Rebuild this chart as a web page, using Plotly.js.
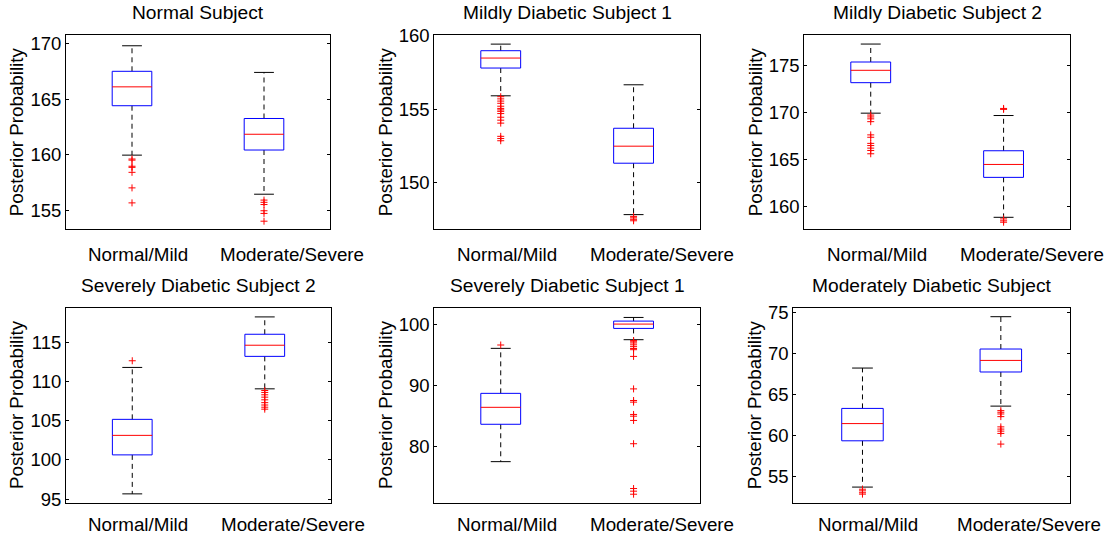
<!DOCTYPE html>
<html>
<head>
<meta charset="utf-8">
<script src="https://cdn.plot.ly/plotly-3.0.1.min.js"></script>
<style>
  html, body { margin: 0; padding: 0; background: #fff; }
  #chart { width: 1114px; height: 539px; }
</style>
</head>
<body>
<div id="chart"></div>
<script>
// ---------------- DATA ----------------
const panelTitles = [
  "Normal Subject",
  "Mildly Diabetic Subject 1",
  "Mildly Diabetic Subject 2",
  "Severely Diabetic Subject 2",
  "Severely Diabetic Subject 1",
  "Moderately Diabetic Subject"
];
const categories = ["Normal/Mild", "Moderate/Severe"];
const yAxisLabel = "Posterior Probability";

// per panel: [Normal/Mild, Moderate/Severe]
const upperWhisker = [[169.8, 167.4], [159.43, 156.66], [177.22, 169.65], [111.79, 118.23], [96.02, 101.09], [68.17, 74.43]];
const q3Values     = [[167.5, 163.25], [158.98, 153.7], [175.32, 165.92], [105.17, 116.02], [88.64, 100.49], [63.25, 70.49]];
const medianValues = [[166.1, 161.83], [158.48, 152.48], [174.44, 164.47], [103.13, 114.62], [86.35, 100.0], [61.4, 69.1]];
const q1Values     = [[164.4, 160.41], [157.8, 151.32], [173.13, 163.1], [100.64, 113.2], [83.57, 99.29], [59.3, 67.69]];
const lowerWhisker = [[159.95, 156.43], [155.91, 147.82], [169.9, 158.87], [95.67, 109.06], [77.44, 97.44], [53.66, 63.53]];

const outliersNormalMild = [
  [159.6, 159.5, 158.95, 158.85, 158.4, 157.0, 155.65],
  [155.85, 155.7, 155.55, 155.4, 155.2, 155.05, 154.95, 154.85, 154.7, 154.45, 154.25, 154.05, 153.15, 153.0, 152.85],
  [169.7, 169.5, 169.3, 169.0, 167.6, 167.35, 166.7, 166.47, 166.2, 165.95, 165.6],
  [112.64],
  [96.57],
  [53.4, 53.2, 52.97, 52.8]
];
const outliersModerateSevere = [
  [155.9, 155.7, 155.5, 154.94, 154.7, 154.0],
  [147.7, 147.6, 147.5, 147.4],
  [170.4, 170.3, 158.7, 158.5, 158.35],
  [108.85, 108.6, 108.3, 108.0, 107.66, 107.3, 107.0, 106.72, 106.47],
  [97.3, 97.1, 96.9, 96.6, 96.3, 96.0, 95.8, 94.7, 89.37, 87.47, 87.2, 85.18, 84.9, 84.2, 80.38, 73.03, 72.6, 72.1],
  [62.98, 62.78, 62.57, 62.25, 61.0, 60.73, 60.48, 60.2, 58.9]
];

const yTickValues = [
  [155, 160, 165, 170],
  [150, 155, 160],
  [160, 165, 170, 175],
  [95, 100, 105, 110, 115],
  [80, 90, 100],
  [55, 60, 65, 70, 75]
];

// ---------------- LAYOUT / DRAWING ----------------
const W = 1114, H = 539;
const yRanges = [[153.27, 170.77], [146.82, 160.05], [157.6, 178.18], [94.57, 119.43], [70.74, 102.72], [51.78, 75.49]];
const xDomPx = [[66, 330], [434.3, 700], [804.3, 1070], [66, 331], [434.3, 700], [793.3, 1070]];
const yDomPx = [[35, 229.3], [35, 229.3], [35, 229.3], [307.5, 502.5], [307.5, 502.5], [308, 502.5]];
const labelDrop = [25.2, 25.2, 25.2, 21.5, 21.5, 21.5];

const FONT = "Liberation Sans, Arial, Helvetica, sans-serif";
const halfBox = 0.15, halfCap = 0.075;
const BLUE = "#0000ff", RED = "#ff0000", BLACK = "#000000";

const traces = [];
const layout = {
  width: W, height: H,
  margin: {l: 0, r: 0, t: 0, b: 0},
  paper_bgcolor: "#ffffff",
  plot_bgcolor: "#ffffff",
  showlegend: false,
  font: {family: FONT, size: 18, color: BLACK},
  annotations: []
};

for (let p = 0; p < 6; p++) {
  const sfx = p === 0 ? "" : String(p + 1);
  const xa = "x" + sfx, ya = "y" + sfx;
  const boxX = [], boxY = [], medX = [], medY = [], whX = [], whY = [], capX = [], capY = [];
  const outX = [], outY = [];
  for (let c = 0; c < 2; c++) {
    const pos = c + 1;
    const q1 = q1Values[p][c], q3 = q3Values[p][c], md = medianValues[p][c];
    const uw = upperWhisker[p][c], lw = lowerWhisker[p][c];
    boxX.push(pos - halfBox, pos + halfBox, pos + halfBox, pos - halfBox, pos - halfBox, null);
    boxY.push(q1, q1, q3, q3, q1, null);
    medX.push(pos - halfBox, pos + halfBox, null);
    medY.push(md, md, null);
    whX.push(pos, pos, null, pos, pos, null);
    whY.push(q3, uw, null, q1, lw, null);
    capX.push(pos - halfCap, pos + halfCap, null, pos - halfCap, pos + halfCap, null);
    capY.push(uw, uw, null, lw, lw, null);
    const outs = c === 0 ? outliersNormalMild[p] : outliersModerateSevere[p];
    outs.forEach(v => { outX.push(pos); outY.push(v); });

    // category label (left-aligned just left of the box centre, as in the reference)
    layout.annotations.push({
      text: categories[c],
      xref: xa, yref: ya + " domain",
      x: pos, y: 0, xanchor: "left", yanchor: "middle",
      xshift: -46, yshift: -labelDrop[p],
      showarrow: false,
      font: {family: FONT, size: 18.8, color: BLACK}
    });
  }
  const common = {xaxis: xa, yaxis: ya, hoverinfo: "skip", type: "scatter"};
  traces.push(Object.assign({x: whX, y: whY, mode: "lines", line: {color: BLACK, width: 1, dash: "5px,4px"}}, common));
  traces.push(Object.assign({x: capX, y: capY, mode: "lines", line: {color: BLACK, width: 1}}, common));
  traces.push(Object.assign({x: boxX, y: boxY, mode: "lines", line: {color: BLUE, width: 1}}, common));
  traces.push(Object.assign({x: medX, y: medY, mode: "lines", line: {color: RED, width: 1}}, common));
  traces.push(Object.assign({x: outX, y: outY, mode: "markers",
    marker: {symbol: "cross-thin", size: 5, color: RED, line: {color: RED, width: 1}}}, common));

  const xKey = "xaxis" + sfx, yKey = "yaxis" + sfx;
  layout[xKey] = {
    domain: [xDomPx[p][0] / W, xDomPx[p][1] / W],
    anchor: ya,
    range: [0.5, 2.5],
    tickmode: "array", tickvals: [1, 2], ticktext: categories,
    showticklabels: false,
    ticks: "", showgrid: false, zeroline: false,
    showline: true, mirror: true, linecolor: BLACK, linewidth: 1,
    fixedrange: true
  };
  layout[yKey] = {
    domain: [1 - yDomPx[p][1] / H, 1 - yDomPx[p][0] / H],
    anchor: xa,
    range: yRanges[p],
    tickmode: "array", tickvals: yTickValues[p],
    ticks: "inside", ticklen: 3, tickwidth: 1, tickcolor: BLACK,
    showgrid: false, zeroline: false,
    showline: true, mirror: "ticks", linecolor: BLACK, linewidth: 1,
    tickfont: {family: FONT, size: 18.5, color: BLACK},
    title: {text: yAxisLabel, font: {family: FONT, size: 18.8, color: BLACK}, standoff: 1},
    fixedrange: true
  };
  layout.annotations.push({
    text: panelTitles[p],
    xref: xa + " domain", yref: ya + " domain",
    x: 0.5, y: 1, xanchor: "center", yanchor: "bottom", yshift: 10,
    showarrow: false,
    font: {family: FONT, size: 19.2, color: BLACK}
  });
}

Plotly.newPlot("chart", traces, layout, {displayModeBar: false, staticPlot: true});
</script>
</body>
</html>
